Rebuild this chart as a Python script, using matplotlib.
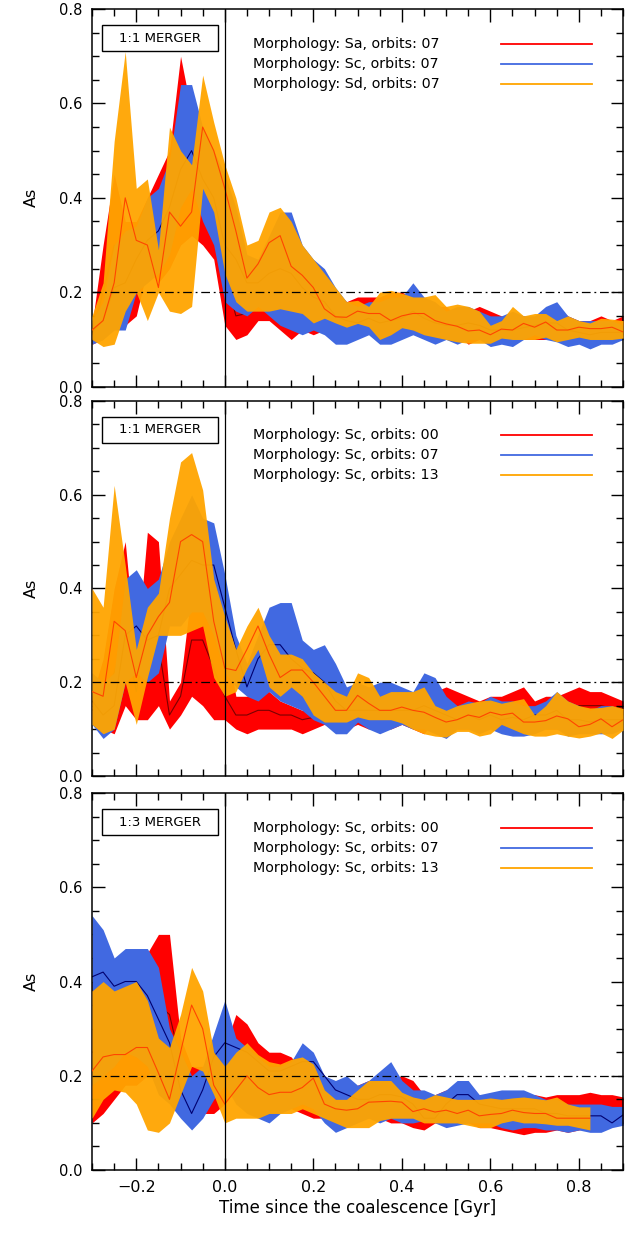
import numpy as np
import matplotlib
matplotlib.use('Agg')
import matplotlib.pyplot as plt
from matplotlib.patches import Rectangle

plt.rc('font', family='DejaVu Sans')
plt.rc('xtick', labelsize=11.5); plt.rc('ytick', labelsize=10.5)

nan = np.nan
# time since coalescence [Gyr]
t = [-0.300, -0.275, -0.250, -0.225, -0.200, -0.175, -0.150, -0.125, -0.100, -0.075, -0.050, -0.025,
     0.000, 0.025, 0.050, 0.075, 0.100, 0.125, 0.150, 0.175, 0.200, 0.225, 0.250, 0.275,
     0.300, 0.325, 0.350, 0.375, 0.400, 0.425, 0.450, 0.475, 0.500, 0.525, 0.550, 0.575,
     0.600, 0.625, 0.650, 0.675, 0.700, 0.725, 0.750, 0.775, 0.800, 0.825, 0.850, 0.875,
     0.900]

# ---- panel 1 : 1:1 merger, orbits 07, Sa / Sc / Sd
p1_sa_lo = [.09, .10, .14, .13, .15, .25, .22, .25, .30, .32, .30, .27,
            .13, .10, .11, .14, .14, .12, .10, .12, .11, .12, .12, .10,
            .11, .12, .10, .10, .11, .12, .11, .11, .12, .11, .09, .10,
            .10, .10, .11, .10, .10, .10, .10, .10, .11, .10, .11, .10,
            .11]
p1_sa_hi = [.13, .30, .45, .35, .35, .40, .45, .50, .70, .58, .45, .38,
            .33, .21, .20, .25, .28, .30, .28, .25, .23, .21, .20, .18,
            .19, .19, .19, .20, .20, .19, .18, .17, .17, .15, .16, .17,
            .16, .15, .15, .15, .14, .15, .17, .15, .14, .14, .15, .14,
            .15]
p1_sa_md = [.11, .20, .30, .24, .25, .32, .33, .37, .50, .45, .40, .32,
            .24, .15, .155, .19, .21, .21, .19, .18, .17, .16, .16, .14,
            .15, .155, .145, .15, .155, .155, .145, .14, .145, .13, .125, .135,
            .13, .125, .13, .125, .12, .125, .135, .125, .125, .12, .13, .12,
            .13]
p1_sc_lo = [.09, .10, .12, .12, .20, .22, .24, .28, .38, .42, .35, .30,
            .18, .16, .15, .17, .15, .13, .12, .11, .12, .11, .09, .09,
            .10, .11, .09, .09, .10, .11, .10, .09, .10, .09, .10, .10,
            .085, .09, .085, .10, .11, .10, .095, .085, .09, .08, .09, .09,
            .10]
p1_sc_hi = [.14, .18, .30, .33, .34, .40, .42, .48, .64, .64, .55, .50,
            .45, .38, .28, .27, .32, .37, .37, .30, .27, .25, .21, .18,
            .17, .18, .18, .19, .19, .22, .19, .18, .16, .17, .17, .16,
            .15, .15, .16, .15, .15, .17, .18, .15, .14, .14, .14, .14,
            .13]
p1_sc_md = [.115, .14, .21, .22, .27, .31, .33, .38, .46, .50, .44, .40,
            .30, .27, .22, .22, .24, .25, .24, .21, .19, .18, .15, .14,
            .135, .145, .135, .14, .145, .16, .145, .135, .13, .13, .135, .13,
            .12, .12, .12, .125, .13, .135, .135, .12, .115, .11, .115, .115,
            .115]
p1_sd_lo = [.10, .085, .09, .16, .20, .14, .20, .16, .155, .17, .42, .37,
            .24, .18, .16, .16, .16, .165, .16, .155, .135, .145, .135, .126,
            .134, .127, .10, .11, .125, .12, .11, .105, .10, .095, .092, .092,
            .092, .103, .10, .10, .10, .105, .095, .10, .105, .10, .10, .10,
            .103]
p1_sd_hi = [.15, .22, .52, .71, .42, .44, .29, .55, .50, .47, .66, .56,
            .47, .40, .30, .31, .37, .38, .35, .30, .27, .24, .21, .18,
            .183, .17, .20, .204, .198, .19, .19, .195, .17, .175, .17, .16,
            .13, .14, .17, .15, .155, .155, .14, .15, .14, .135, .145, .143,
            .14]
p1_sd_md = [.12, .14, .22, .40, .31, .30, .21, .37, .34, .37, .55, .50,
            .42, .33, .23, .26, .305, .32, .255, .236, .21, .165, .148, .147,
            .16, .155, .155, .14, .15, .155, .155, .14, .133, .128, .118, .12,
            .11, .122, .12, .134, .126, .137, .12, .12, .126, .123, .123, .126,
            .116]

# ---- panel 2 : 1:1 merger, Sc, orbits 00 / 07 / 13
p2_00_lo = [.12, .10, .09, .15, .12, .12, .15, .10, .13, .17, .15, .12,
            .12, .10, .09, .10, .10, .10, .10, .09, .10, .11, .10, .10,
            .11, .10, .11, .10, .11, .10, .09, .12, .11, .10, .10, .10,
            .11, .10, .10, .11, .11, .10, .10, .10, .11, .12, .12, .12,
            .13]
p2_00_hi = [.17, .25, .40, .50, .25, .52, .50, .16, .20, .40, .50, .35,
            .30, .17, .17, .18, .18, .16, .15, .14, .15, .16, .18, .17,
            .18, .19, .18, .19, .18, .17, .17, .18, .19, .18, .17, .16,
            .17, .17, .18, .19, .16, .17, .17, .18, .19, .18, .18, .17,
            .16]
p2_00_md = [.14, .16, .22, .30, .18, .30, .28, .13, .17, .29, .29, .23,
            .17, .13, .13, .14, .14, .13, .13, .12, .125, .14, .14, .13,
            .14, .14, .14, .14, .14, .13, .13, .15, .15, .14, .14, .13,
            .14, .13, .14, .15, .13, .13, .135, .14, .15, .15, .15, .145,
            .145]
p2_07_lo = [.11, .08, .10, .20, .22, .20, .22, .32, .32, .35, .35, .30,
            .22, .19, .17, .16, .18, .16, .15, .14, .12, .11, .09, .09,
            .115, .10, .09, .10, .11, .10, .10, .09, .08, .10, .10, .09,
            .10, .09, .085, .085, .09, .10, .10, .085, .09, .09, .09, .09,
            .10]
p2_07_hi = [.22, .20, .22, .42, .44, .40, .42, .50, .55, .60, .55, .54,
            .43, .30, .24, .30, .36, .37, .37, .29, .27, .28, .24, .19,
            .20, .19, .20, .20, .19, .18, .22, .21, .17, .15, .16, .155,
            .17, .16, .16, .15, .15, .16, .18, .16, .15, .14, .15, .15,
            .14]
p2_07_md = [.16, .13, .15, .30, .32, .29, .30, .40, .43, .46, .45, .45,
            .36, .27, .19, .25, .28, .28, .25, .23, .22, .20, .16, .14,
            .14, .14, .14, .14, .14, .14, .15, .14, .13, .12, .13, .12,
            .13, .12, .125, .12, .13, .13, .14, .12, .12, .115, .12, .12,
            .12]
p2_13_lo = [.11, .09, .10, .20, .11, .21, .30, .30, .30, .31, .32, .21,
            .17, .18, .23, .27, .19, .17, .19, .17, .13, .115, .115, .115,
            .126, .12, .12, .12, .113, .10, .09, .085, .083, .095, .095, .085,
            .09, .11, .10, .09, .085, .085, .09, .085, .081, .085, .092, .08,
            .098]
p2_13_hi = [.40, .36, .62, .45, .27, .36, .39, .55, .67, .69, .61, .42,
            .34, .27, .32, .36, .30, .26, .26, .25, .22, .20, .18, .17,
            .22, .21, .17, .18, .18, .18, .19, .15, .14, .15, .155, .16,
            .162, .155, .16, .165, .13, .15, .18, .16, .15, .145, .146, .15,
            .144]
p2_13_md = [.18, .17, .33, .31, .21, .30, .34, .37, .50, .515, .50, .33,
            .23, .225, .27, .32, .26, .21, .226, .226, .20, .17, .14, .14,
            .172, .155, .14, .14, .147, .14, .136, .125, .115, .12, .13, .125,
            .136, .13, .134, .115, .115, .118, .128, .122, .105, .11, .122, .105,
            .12]

# ---- panel 3 : 1:3 merger, Sc, orbits 00 / 07 / 13
p3_00_lo = [.10, .12, .15, .18, .18, .20, .22, .20, .18, .15, .12, .12,
            .14, .18, .17, .15, .16, .15, .13, .12, .11, .11, .10, .10,
            .11, .11, .11, .10, .10, .09, .085, .10, .10, .10, .10, .09,
            .09, .085, .08, .075, .08, .08, .085, .08, .085, .09, .10, .10,
            .10]
p3_00_hi = [.40, .40, .40, .42, .44, .46, .50, .50, .28, .22, .22, .22,
            .26, .33, .31, .27, .25, .25, .24, .21, .20, .18, .17, .17,
            .18, .19, .19, .19, .20, .19, .16, .16, .17, .16, .15, .16,
            .16, .16, .155, .16, .16, .155, .16, .16, .16, .165, .16, .16,
            .155]
p3_00_md = [.25, .26, .28, .30, .32, .33, .35, .33, .23, .19, .17, .17,
            .20, .26, .25, .22, .21, .20, .19, .17, .16, .15, .14, .14,
            .15, .15, .15, .14, .14, .13, .12, .13, .13, .13, .125, .125,
            .125, .12, .12, .115, .12, .12, .12, .12, .125, .125, .13, .13,
            .13]
p3_07_lo = [.18, .20, .22, .25, .24, .22, .16, .14, .11, .085, .11, .15,
            .18, .14, .12, .11, .10, .12, .13, .14, .13, .10, .08, .09,
            .10, .11, .10, .11, .10, .10, .105, .10, .09, .095, .10, .10,
            .10, .09, .085, .09, .09, .085, .085, .08, .085, .08, .08, .09,
            .095]
p3_07_hi = [.54, .51, .45, .47, .47, .47, .43, .30, .25, .20, .22, .29,
            .36, .28, .26, .24, .22, .22, .23, .27, .25, .20, .19, .20,
            .18, .19, .21, .23, .19, .17, .17, .16, .17, .19, .19, .16,
            .165, .17, .17, .17, .16, .15, .15, .14, .14, .14, .14, .135,
            .135]
p3_07_md = [.41, .42, .39, .40, .40, .37, .32, .27, .17, .12, .17, .24,
            .27, .26, .25, .23, .21, .21, .22, .23, .23, .20, .17, .16,
            .15, .15, .16, .16, .155, .14, .11, .11, .14, .16, .16, .14,
            .135, .13, .13, .13, .13, .12, .12, .115, .115, .115, .115, .10,
            .117]
p3_13_lo = [.11, .15, .17, .165, .14, .085, .08, .10, .16, .22, .21, .16,
            .10, .11, .11, .11, .12, .12, .12, .13, .12, .11, .10, .09,
            .09, .09, .105, .11, .11, .11, .10, .10, .10, .10, .095, .09,
            .09, .10, .105, .10, .10, .098, .095, .095, .09, .085, nan, nan,
            nan]
p3_13_hi = [.38, .40, .38, .39, .40, .36, .28, .26, .33, .43, .38, .25,
            .22, .25, .27, .245, .23, .225, .235, .24, .225, .17, .15, .15,
            .17, .19, .19, .19, .165, .155, .15, .16, .155, .15, .15, .15,
            .153, .15, .153, .155, .152, .149, .155, .14, .134, .134, nan, nan,
            nan]
p3_13_md = [.21, .24, .245, .245, .26, .26, .206, .15, .25, .35, .30, .18,
            .14, .17, .20, .175, .16, .165, .165, .175, .195, .14, .13, .127,
            .13, .144, .145, .146, .144, .124, .13, .123, .127, .12, .127, .115,
            .118, .12, .127, .122, .12, .12, .11, .11, .11, .11, nan, nan,
            nan]

band_cols = ['#ff0000', '#4169e1', '#ffa500']
line_cols = ['#7a0000', '#000070', '#ff4500']

panels = [
    ('1:1 MERGER',
     ['Morphology: Sa, orbits: 07', 'Morphology: Sc, orbits: 07', 'Morphology: Sd, orbits: 07'],
     [(p1_sa_lo, p1_sa_hi, p1_sa_md), (p1_sc_lo, p1_sc_hi, p1_sc_md), (p1_sd_lo, p1_sd_hi, p1_sd_md)]),
    ('1:1 MERGER',
     ['Morphology: Sc, orbits: 00', 'Morphology: Sc, orbits: 07', 'Morphology: Sc, orbits: 13'],
     [(p2_00_lo, p2_00_hi, p2_00_md), (p2_07_lo, p2_07_hi, p2_07_md), (p2_13_lo, p2_13_hi, p2_13_md)]),
    ('1:3 MERGER',
     ['Morphology: Sc, orbits: 00', 'Morphology: Sc, orbits: 07', 'Morphology: Sc, orbits: 13'],
     [(p3_00_lo, p3_00_hi, p3_00_md), (p3_07_lo, p3_07_hi, p3_07_md), (p3_13_lo, p3_13_hi, p3_13_md)]),
]

fig = plt.figure(figsize=(6.36, 12.35), dpi=100)
boxes = [(0.1447, 0.6869, 0.835, 0.3058),
         (0.1447, 0.3717, 0.835, 0.3036),
         (0.1447, 0.0526, 0.835, 0.3053)]

for i, (title, labels, series) in enumerate(panels):
    ax = fig.add_axes(boxes[i])
    for k, (lo, hi, md) in enumerate(series):
        alpha = 0.95 if k == 2 else 1.0
        ax.fill_between(t, lo, hi, color=band_cols[k], lw=0, alpha=alpha, zorder=1 + k)
        ax.plot(t, md, color=line_cols[k], lw=0.8, zorder=1 + k)
    ax.axvline(0.0, color='k', lw=0.9, zorder=6)
    ax.axhline(0.2, color='k', lw=0.9, ls=(0, (7, 3, 1.5, 3)), zorder=6)

    ax.set_xlim(-0.3, 0.9)
    ax.set_ylim(0.0, 0.8)
    ax.set_xticks([-0.2, 0.0, 0.2, 0.4, 0.6, 0.8])
    ax.set_xticks(np.arange(-0.3, 0.91, 0.05), minor=True)
    ax.set_yticks([0.0, 0.2, 0.4, 0.6, 0.8])
    ax.set_yticks(np.arange(0.0, 0.81, 0.05), minor=True)
    ax.yaxis.set_major_formatter(matplotlib.ticker.FormatStrFormatter('%.1f'))
    ax.xaxis.set_major_formatter(matplotlib.ticker.FuncFormatter(
        lambda v, p: ('%.1f' % v).replace('-', '\u2212')))
    ax.tick_params(which='both', direction='in', top=True, right=True, width=1.0)
    ax.tick_params(which='major', length=9, pad=7)
    ax.tick_params(which='minor', length=5)
    for s in ax.spines.values():
        s.set_linewidth(1.1)
    if i < 2:
        ax.tick_params(labelbottom=False)
    else:
        ax.set_xlabel('Time since the coalescence [Gyr]', fontsize=12, labelpad=3)
    ax.set_ylabel('As', fontsize=11.5, labelpad=14)

    # merger label box
    ax.add_patch(Rectangle((0.019, 0.889), 0.218, 0.069, transform=ax.transAxes,
                           fill=False, ec='k', lw=1.0, zorder=7))
    ax.text(0.128, 0.923, title, transform=ax.transAxes, ha='center', va='center',
            fontsize=9.5, zorder=8)

    # legend
    for k, lab in enumerate(labels):
        y = 0.908 - 0.053 * k
        ax.text(0.303, y, lab, transform=ax.transAxes, ha='left', va='center',
                fontsize=10.3, zorder=8)
        ax.plot([0.770, 0.942], [y, y], transform=ax.transAxes, color=band_cols[k],
                lw=1.3, zorder=8)

fig.savefig('out.png', dpi=100)
